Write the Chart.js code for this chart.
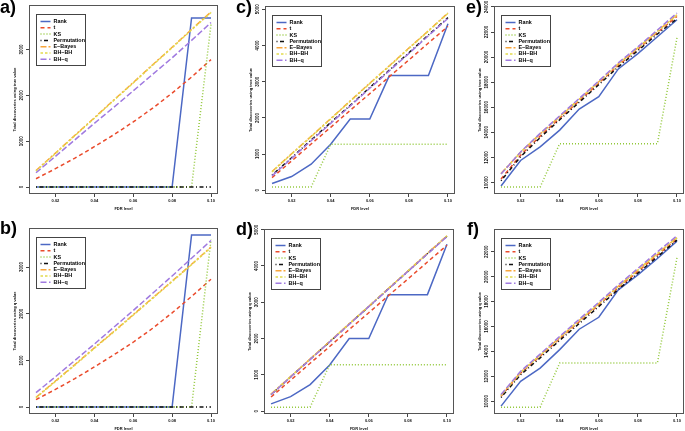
<!DOCTYPE html>
<html>
<head>
<meta charset="utf-8">
<script src="https://cdn.jsdelivr.net/npm/chart.js@4.4.0/dist/chart.umd.min.js"></script>
<style>
html, body { margin: 0; padding: 0; background: #fff; }
#fig { position: relative; width: 685px; height: 431px; overflow: hidden; }
.cell { position: absolute; }
.tag { position: absolute; font: bold 18px "Liberation Sans", Arial, sans-serif; color: #000; line-height: 1; }
</style>
</head>
<body>
<div id="fig"></div>
<script>
// FDR levels on the x axis
const fdr = [0.01, 0.02, 0.03, 0.04, 0.05, 0.06, 0.07, 0.08, 0.09, 0.10];
const fdrTicks = [0.02, 0.04, 0.06, 0.08, 0.10];
const methods = ['Rank', 't', 'KS', 'Permutation', 'E\u2212Bayes', 'BH\u2212BH', 'BH\u2212q'];

// panel a)
const aRank = [0, 0, 0, 0, 0, 0, 0, 0, 3690, 3690];
const aT = [180, 400, 630, 880, 1140, 1420, 1720, 2050, 2400, 2780];
const aKS = [0, 0, 0, 0, 0, 0, 0, 0, 0, 3550];
const aPerm = [0, 0, 0, 0, 0, 0, 0, 0, 0, 0];
const aEBayes = [360, 740, 1130, 1510, 1900, 2280, 2670, 3050, 3440, 3820];
const aBHBH = [350, 730, 1120, 1500, 1890, 2270, 2660, 3040, 3430, 3810];
const aBHq = [310, 670, 1030, 1390, 1740, 2100, 2460, 2820, 3200, 3590];

// panel b)
const bRank = [0, 0, 0, 0, 0, 0, 0, 0, 3690, 3690];
const bT = [160, 380, 610, 860, 1120, 1390, 1690, 2020, 2370, 2740];
const bKS = [0, 0, 0, 0, 0, 0, 0, 0, 0, 3590];
const bPerm = [0, 0, 0, 0, 0, 0, 0, 0, 0, 0];
const bEBayes = [210, 560, 910, 1270, 1620, 1980, 2340, 2700, 3060, 3430];
const bBHBH = [200, 550, 900, 1260, 1610, 1970, 2330, 2690, 3050, 3420];
const bBHq = [310, 650, 1000, 1350, 1710, 2070, 2440, 2810, 3190, 3570];

// panel c)
const cRank = [190, 380, 720, 1270, 1970, 1970, 3170, 3170, 3170, 4600];
const cT = [350, 810, 1280, 1740, 2210, 2670, 3140, 3600, 4070, 4530];
const cKS = [90, 90, 90, 1270, 1270, 1270, 1270, 1270, 1270, 1270];
const cPerm = [420, 900, 1390, 1870, 2350, 2840, 3320, 3800, 4290, 4770];
const cEBayes = [520, 1010, 1490, 1980, 2470, 2960, 3440, 3930, 4410, 4900];
const cBHBH = [510, 1000, 1480, 1970, 2460, 2950, 3430, 3920, 4400, 4890];
const cBHq = [400, 880, 1370, 1850, 2330, 2820, 3300, 3780, 4270, 4750];

// panel d)
const dRank = [200, 400, 730, 1270, 2000, 2000, 3210, 3210, 3210, 4600];
const dT = [390, 850, 1320, 1780, 2250, 2710, 3180, 3640, 4110, 4570];
const dKS = [110, 110, 110, 1280, 1280, 1280, 1280, 1280, 1280, 1280];
const dPerm = [460, 940, 1430, 1910, 2400, 2880, 3370, 3850, 4340, 4820];
const dEBayes = [470, 950, 1440, 1920, 2410, 2890, 3380, 3860, 4350, 4830];
const dBHBH = [460, 950, 1430, 1920, 2400, 2890, 3370, 3860, 4340, 4830];
const dBHq = [450, 940, 1420, 1910, 2390, 2880, 3360, 3850, 4330, 4810];

// panel e)
const eRank = [9720, 11760, 12840, 14180, 15860, 16840, 19060, 20280, 21620, 22980];
const eT = [10280, 12180, 13700, 15120, 16520, 17920, 19340, 20640, 21960, 23240];
const eKS = [9640, 9640, 9640, 13100, 13100, 13100, 13100, 13100, 13100, 21540];
const ePerm = [10140, 12060, 13580, 15000, 16400, 17800, 19220, 20520, 21840, 23060];
const eEBayes = [10720, 12420, 13880, 15260, 16640, 18040, 19460, 20740, 22060, 23380];
const eBHBH = [10700, 12400, 13860, 15240, 16620, 18020, 19440, 20720, 22040, 23360];
const eBHq = [10680, 12440, 13920, 15320, 16700, 18100, 19540, 20820, 22160, 23520];

// panel f)
const fRank = [9600, 11600, 12660, 14140, 15780, 16740, 18940, 20140, 21460, 22860];
const fT = [10400, 12240, 13620, 15020, 16380, 17740, 19120, 20420, 21740, 23020];
const fKS = [9520, 9520, 9520, 13060, 13060, 13060, 13060, 13060, 13060, 21520];
const fPerm = [10300, 12120, 13480, 14880, 16240, 17600, 18980, 20280, 21600, 22940];
const fEBayes = [10480, 12320, 13700, 15110, 16480, 17840, 19230, 20540, 21870, 23140];
const fBHBH = [10460, 12300, 13680, 15090, 16460, 17820, 19210, 20520, 21850, 23120];
const fBHq = [10540, 12400, 13780, 15200, 16580, 17940, 19340, 20660, 22000, 23280];

// y tick labels
const yTicksAB = [0, 1000, 2000, 3000];
const yTicksCD = [0, 1000, 2000, 3000, 4000, 5000];
const yTicksE = [10000, 12000, 14000, 16000, 18000, 20000, 22000, 24000];
const yTicksF = [10000, 12000, 14000, 16000, 18000, 20000, 22000];

// line styles, same order as methods
const styles = [
    { color: '#4c68c4', dash: [] },
    { color: '#ea4b2c', dash: [4, 3] },
    { color: '#92c83a', dash: [1, 2] },
    { color: '#111111', dash: [1, 2.5, 4, 2.5] },
    { color: '#f8a53a', dash: [6, 2, 2, 2] },
    { color: '#e2da4c', dash: [2.5, 2] },
    { color: '#a07ae0', dash: [6, 2.5] }
];

const FONT = '"Liberation Sans", Arial, sans-serif';

// panels: cell = [left, top, width, height], plot = [left, top, right, bottom] in page px
const panels = [
    { tag: 'a)', tagPos: [0, -2], cell: [0, 0, 228, 215], plot: [29, 5, 218, 194], yTicks: yTicksAB,
      yTitle: 'Total discoveries using true value', series: [aRank, aT, aKS, aPerm, aEBayes, aBHBH, aBHq] },
    { tag: 'c)', tagPos: [236, -2], cell: [228, 0, 229, 215], plot: [265, 6, 455, 194], yTicks: yTicksCD,
      yTitle: 'Total discoveries using true value', series: [cRank, cT, cKS, cPerm, cEBayes, cBHBH, cBHq] },
    { tag: 'e)', tagPos: [466, -2], cell: [457, 0, 228, 215], plot: [494, 6, 684, 194], yTicks: yTicksE,
      yTitle: 'Total discoveries using true value', series: [eRank, eT, eKS, ePerm, eEBayes, eBHBH, eBHq] },
    { tag: 'b)', tagPos: [0, 219], cell: [0, 215, 228, 216], plot: [29, 228, 218, 414], yTicks: yTicksAB,
      yTitle: 'Total discoveries using q value', series: [bRank, bT, bKS, bPerm, bEBayes, bBHBH, bBHq] },
    { tag: 'd)', tagPos: [236, 220], cell: [228, 215, 229, 216], plot: [264, 229, 454, 414], yTicks: yTicksCD,
      yTitle: 'Total discoveries using q value', series: [dRank, dT, dKS, dPerm, dEBayes, dBHBH, dBHq] },
    { tag: 'f)', tagPos: [467, 220], cell: [457, 215, 228, 216], plot: [494, 229, 684, 414], yTicks: yTicksF,
      yTitle: 'Total discoveries using q value', series: [fRank, fT, fKS, fPerm, fEBayes, fBHBH, fBHq] }
];

// box, axis texts and the in-plot legend, drawn the way R's base graphics does it
const framePlugin = {
    id: 'frame',
    afterDatasetsDraw(chart, args, opts) {
        const ctx = chart.ctx;
        const ca = chart.chartArea;
        const xs = chart.scales.x;
        const ys = chart.scales.y;
        ctx.save();

        ctx.strokeStyle = '#555';
        ctx.lineWidth = 1;
        ctx.strokeRect(Math.round(ca.left) + 0.5, Math.round(ca.top) + 0.5,
            Math.round(ca.right - ca.left) - 1, Math.round(ca.bottom - ca.top) - 1);

        ctx.fillStyle = '#111';
        ctx.textAlign = 'center';
        ctx.textBaseline = 'middle';

        // y tick labels, parallel to the axis
        ctx.font = 'bold 4.5px ' + FONT;
        opts.yTicks.forEach(v => {
            ctx.save();
            ctx.translate(ca.left - 7, ys.getPixelForValue(v));
            ctx.rotate(-Math.PI / 2);
            ctx.fillText(String(v), 0, 0);
            ctx.restore();
        });

        // y title
        ctx.font = 'bold 4px ' + FONT;
        ctx.save();
        ctx.translate(ca.left - 14, (ca.top + ca.bottom) / 2);
        ctx.rotate(-Math.PI / 2);
        ctx.fillText(opts.yTitle, 0, 0);
        ctx.restore();

        // x tick labels and title
        fdrTicks.forEach(v => ctx.fillText(v.toFixed(2), xs.getPixelForValue(v), ca.bottom + 7));
        ctx.fillText('FDR level', (ca.left + ca.right) / 2, ca.bottom + 15);

        // legend
        const lx = Math.round(ca.left) + 7.5;
        const ly = Math.round(ca.top) + 9.5;
        ctx.fillStyle = '#fff';
        ctx.fillRect(lx, ly, 49, 51);
        ctx.strokeStyle = '#444';
        ctx.strokeRect(lx, ly, 49, 51);
        ctx.font = 'bold 5.4px ' + FONT;
        ctx.textAlign = 'left';
        methods.forEach((name, i) => {
            const y = ly + 7 + i * 6.3;
            ctx.strokeStyle = styles[i].color;
            ctx.lineWidth = 1.5;
            ctx.setLineDash(styles[i].dash);
            ctx.beginPath();
            ctx.moveTo(lx + 4, y);
            ctx.lineTo(lx + 14, y);
            ctx.stroke();
            ctx.setLineDash([]);
            ctx.fillStyle = '#000';
            ctx.fillText(name, lx + 17, y);
        });
        ctx.restore();
    }
};

const fig = document.getElementById('fig');

panels.forEach(p => {
    const [cl, ct, cw, chh] = p.cell;
    const [pl, pt, pr, pb] = p.plot;

    const div = document.createElement('div');
    div.className = 'cell';
    div.style.left = cl + 'px';
    div.style.top = ct + 'px';
    const canvas = document.createElement('canvas');
    canvas.width = cw;
    canvas.height = chh;
    div.appendChild(canvas);
    fig.appendChild(div);

    const tag = document.createElement('div');
    tag.className = 'tag';
    tag.textContent = p.tag;
    tag.style.left = p.tagPos[0] + 'px';
    tag.style.top = p.tagPos[1] + 'px';
    fig.appendChild(tag);

    // R style axis ranges: data range plus 4% on each side
    const all = p.series.flat();
    const lo = Math.min(...all), hi = Math.max(...all);
    const ext = (hi - lo) * 0.04;
    const xext = (fdr[fdr.length - 1] - fdr[0]) * 0.04;

    new Chart(canvas, {
        type: 'line',
        data: {
            labels: fdr,
            datasets: p.series.map((vals, i) => ({
                label: methods[i],
                data: vals.map((v, j) => ({ x: fdr[j], y: v })),
                borderColor: styles[i].color,
                borderDash: styles[i].dash,
                borderWidth: 1.5,
                pointRadius: 0,
                tension: 0,
                fill: false,
                order: methods.length - i
            }))
        },
        options: {
            responsive: false,
            animation: false,
            devicePixelRatio: 1,
            layout: { padding: { left: 0, top: pt - ct, right: cl + cw - pr, bottom: 0 } },
            plugins: {
                legend: { display: false },
                tooltip: { enabled: false },
                frame: { yTicks: p.yTicks, yTitle: p.yTitle }
            },
            scales: {
                x: {
                    type: 'linear',
                    min: fdr[0] - xext,
                    max: fdr[fdr.length - 1] + xext,
                    afterBuildTicks: s => { s.ticks = fdrTicks.map(v => ({ value: v })); },
                    afterFit: s => { s.height = ct + chh - pb; },
                    ticks: { display: false },
                    grid: { drawOnChartArea: false, drawTicks: true, tickLength: 3, color: '#444' },
                    border: { display: false }
                },
                y: {
                    type: 'linear',
                    min: lo - ext,
                    max: hi + ext,
                    afterBuildTicks: s => { s.ticks = p.yTicks.map(v => ({ value: v })); },
                    afterFit: s => { s.width = pl - cl; },
                    ticks: { display: false },
                    grid: { drawOnChartArea: false, drawTicks: true, tickLength: 3, color: '#444' },
                    border: { display: false }
                }
            }
        },
        plugins: [framePlugin]
    });
});
</script>
</body>
</html>
